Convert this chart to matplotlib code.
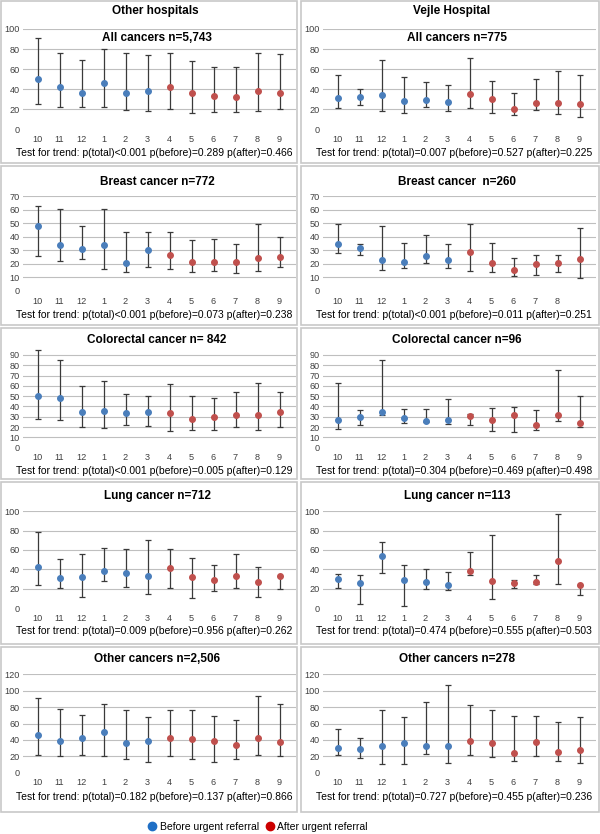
import matplotlib
matplotlib.use('Agg')
import matplotlib.pyplot as plt
from matplotlib.patches import Rectangle
from matplotlib.lines import Line2D

plt.rcParams['font.family'] = ['Liberation Sans', 'DejaVu Sans']

months = ['10', '11', '12', '1', '2', '3', '4', '5', '6', '7', '8', '9']

# Other hospitals
oh_all_mean = [50, 42, 36, 46, 36, 38, 42, 36, 33, 32, 38, 36]
oh_all_lo = [25, 22, 22, 22, 19, 18, 20, 16, 17, 17, 18, 20]
oh_all_hi = [91, 76, 69, 80, 76, 74, 76, 68, 62, 62.5, 76, 75]

oh_breast_mean = [47.7, 33.7, 30.7, 33.7, 20.9, 30, 26.8, 21.6, 21.1, 21.1, 24, 25]
oh_breast_lo = [25.6, 22.1, 23.6, 16, 13.8, 17.7, 16, 14, 14.7, 13, 15, 17.4]
oh_breast_hi = [62.9, 60.7, 47.7, 60.7, 43.5, 43.5, 43.5, 37.3, 38.6, 34.4, 49.4, 39.6]

oh_colo_mean = [49.9, 47.9, 34.6, 35.6, 33.7, 34.6, 33.7, 27.5, 29.8, 31.7, 31.7, 34.6]
oh_colo_lo = [27.5, 26.5, 20, 19.1, 21.7, 20.7, 15.9, 16.8, 16.8, 19.7, 16.8, 19.7]
oh_colo_hi = [94.9, 84.8, 59.6, 64.4, 52.4, 49.9, 61.5, 49.9, 47.9, 54.4, 62.5, 54.4]

oh_lung_mean = [42.4, 30.7, 32.4, 38.3, 35.9, 33.4, 41.7, 31.7, 28.6, 33.4, 26.6, 33.1]
oh_lung_lo = [23.4, 20.7, 11, 27.6, 22, 14.5, 20.7, 10, 17.9, 20.7, 11, 19.7]
oh_lung_hi = [78.3, 50.7, 55.5, 61.7, 60.7, 70.3, 60.7, 51.4, 44.1, 55.9, 42.8, 33.1]

oh_other_mean = [45.6, 38.6, 41.9, 49.6, 35.8, 38.6, 41.9, 41.1, 38.6, 34.2, 42.3, 37]
oh_other_lo = [21.6, 19.9, 21.6, 19.9, 16.3, 13.4, 19.9, 17.1, 13.4, 16.3, 21.6, 19.9]
oh_other_hi = [91.5, 78.1, 70.8, 84.2, 76.5, 68.3, 76.1, 76.1, 69.6, 64.7, 93.2, 84.2]

# Vejle Hospital
vh_all_mean = [31, 32, 34, 28, 29, 27, 35, 30.5, 20, 26, 26, 25]
vh_all_lo = [21, 24, 18, 16, 22, 18, 21, 16, 14, 19, 15, 12]
vh_all_hi = [54, 40, 69, 52, 47, 44, 71, 48.5, 36, 50, 58, 54]

vh_breast_mean = [34.6, 31.4, 22.6, 21.6, 25.6, 22.6, 28.7, 20.6, 15.2, 19.7, 20.6, 23.3]
vh_breast_lo = [27.8, 26.5, 15.5, 16.7, 20.4, 16.7, 14.7, 13.8, 10.8, 11.5, 13.8, 9.6]
vh_breast_hi = [49.1, 34.6, 48.2, 35.6, 41, 34.6, 49.1, 35.6, 24.6, 26.5, 26.5, 46.7]

vh_colo_mean = [27.2, 29.8, 34.6, 28.8, 25.6, 26.5, 30.8, 26.5, 31.7, 21.7, 31.7, 24.3]
vh_colo_lo = [17.8, 21.7, 31.7, 23.6, 24.5, 22.7, 21.7, 15.9, 14.9, 16.8, 25.6, 20]
vh_colo_hi = [62.5, 36.9, 84.8, 37.9, 37.9, 46.8, 32.7, 38.8, 39.5, 36.9, 75.8, 49.9]

vh_lung_mean = [29.7, 26.2, 53.8, 29, 26.9, 24.1, 38.3, 27.9, 25.9, 26.9, 48.6, 24.1]
vh_lung_lo = [20.7, 3.8, 36.2, 1.7, 19.7, 18.6, 33.8, 9, 20.7, 25, 24.5, 13.1]
vh_lung_hi = [34.8, 33.8, 68.6, 44.1, 40.3, 37.6, 57.6, 75.5, 28.6, 33.8, 97.2, 24.1]

vh_other_mean = [30.1, 28.5, 33, 36.2, 32.5, 33, 38.6, 35.8, 24, 37, 24.8, 27.7]
vh_other_lo = [21.6, 17.5, 11, 11, 23.2, 12.2, 22, 18.7, 13.8, 19.9, 14.6, 12.2]
vh_other_hi = [53.7, 42.7, 76.5, 68.3, 85.8, 106.6, 82.6, 76.1, 69.6, 69.6, 61.8, 67.5]

titles_left = ['All cancers n=5,743', 'Breast cancer n=772', 'Colorectal cancer n= 842',
               'Lung cancer n=712', 'Other cancers n=2,506']
titles_right = ['All cancers n=775', 'Breast cancer  n=260', 'Colorectal cancer n=96',
                'Lung cancer n=113', 'Other cancers n=278']
trend_left = ['p(total)<0.001 p(before)=0.289 p(after)=0.466',
              'p(total)<0.001 p(before)=0.073 p(after)=0.238',
              'p(total)<0.001 p(before)=0.005 p(after)=0.129',
              'p(total)=0.009 p(before)=0.956 p(after)=0.262',
              'p(total)=0.182 p(before)=0.137 p(after)=0.866']
trend_right = ['p(total)=0.007 p(before)=0.527 p(after)=0.225',
               'p(total)<0.001 p(before)=0.011 p(after)=0.251',
               'p(total)=0.304 p(before)=0.469 p(after)=0.498',
               'p(total)=0.474 p(before)=0.555 p(after)=0.503',
               'p(total)=0.727 p(before)=0.455 p(after)=0.236']

left_data = [(oh_all_mean, oh_all_lo, oh_all_hi), (oh_breast_mean, oh_breast_lo, oh_breast_hi),
             (oh_colo_mean, oh_colo_lo, oh_colo_hi), (oh_lung_mean, oh_lung_lo, oh_lung_hi),
             (oh_other_mean, oh_other_lo, oh_other_hi)]
right_data = [(vh_all_mean, vh_all_lo, vh_all_hi), (vh_breast_mean, vh_breast_lo, vh_breast_hi),
              (vh_colo_mean, vh_colo_lo, vh_colo_hi), (vh_lung_mean, vh_lung_lo, vh_lung_hi),
              (vh_other_mean, vh_other_lo, vh_other_hi)]

W, H = 600, 834
fig = plt.figure(figsize=(6, 8.34), dpi=100)

blue = '#4a7ebb'
red = '#c0504d'

# row layout in pixels: (ymax, tick step, tick max, axes top px, axes bottom px, subtitle y, trend y, box top, box bottom)
rows = [
    (100, 20, 100, 29, 129.3, 38, 153, 1, 163),
    (70, 10, 70, 196, 291, 181.7, 315, 166, 325),
    (96, 10, 90, 348.8, 447.7, 340, 470.7, 328, 479),
    (100, 20, 100, 511.3, 608, 496, 631.3, 482, 644),
    (120, 20, 120, 674.3, 772.7, 659, 796.7, 647, 812),
]

def fx(x):
    return x / W

def fy(y):
    return 1 - y / H

for col, (data, subs, trends, xoff) in enumerate([(left_data, titles_left, trend_left, 0),
                                                  (right_data, titles_right, trend_right, 300)]):
    for r, (ymax, step, tmax, ytop, ybot, suby, trendy, btop, bbot) in enumerate(rows):
        # panel frame
        bx0 = xoff + 1
        bx1 = xoff + (297 if col == 0 else 299)
        fig.patches.append(Rectangle((fx(bx0), fy(bbot)), fx(bx1 - bx0), (bbot - btop) / H,
                                     transform=fig.transFigure, fill=False,
                                     edgecolor='#c8c8c8', linewidth=1.2))
        ax = fig.add_axes([fx(xoff + 23), fy(ybot), fx(273), (ybot - ytop) / H])
        mean, lo, hi = data[r]
        x = list(range(12))
        yerr = [[m - l for m, l in zip(mean, lo)], [h - m for m, h in zip(mean, hi)]]
        ax.errorbar(x, mean, yerr=yerr, fmt='none', ecolor='#3a3a3a', elinewidth=0.9,
                    capsize=2.2, capthick=0.9, zorder=2)
        ax.plot(x[:6], mean[:6], 'o', color=blue, markersize=4, zorder=3)
        ax.plot(x[6:], mean[6:], 'o', color=red, markersize=4, zorder=3)
        ticks = list(range(0, tmax + 1, step))
        for t in ticks[1:]:
            ax.axhline(t, color='#bfbfbf', linewidth=0.8, zorder=1)
        ax.set_ylim(0, ymax)
        ax.set_xlim(-0.66, 11.75)
        ax.set_yticks(ticks)
        labels = list(months)
        if col == 1 and r == 1:
            labels[-1] = ''
        ax.set_xticks(x)
        ax.set_xticklabels(labels)
        ax.tick_params(length=0, labelsize=6.6, labelcolor='#404040')
        ax.tick_params(axis='y', pad=2.5)
        ax.tick_params(axis='x', pad=4)
        for s in ax.spines.values():
            s.set_visible(False)
        ax.patch.set_alpha(0)
        fig.text(fx(xoff + 157), fy(suby), subs[r], ha='center', va='center',
                 fontsize=8.5, fontweight='bold')
        fig.text(fx(xoff + 154), fy(trendy), 'Test for trend: ' + trends[r],
                 ha='center', va='center', fontsize=7.5)

fig.text(fx(155), fy(11), 'Other hospitals', ha='center', va='center', fontsize=8.5, fontweight='bold')
fig.text(fx(452), fy(11), 'Vejle Hospital', ha='center', va='center', fontsize=8.5, fontweight='bold')

handles = [Line2D([], [], marker='o', linestyle='none', color='#1f6fc5', markersize=6),
           Line2D([], [], marker='o', linestyle='none', color='#cc0000', markersize=6)]
fig.legend(handles, ['Before urgent referral', 'After urgent referral'], loc='center',
           bbox_to_anchor=(fx(258), fy(826.5)), ncol=2, frameon=False, fontsize=7.5,
           handlelength=0.8, handletextpad=0.3, columnspacing=0.7)

fig.savefig('out.png', dpi=100)
